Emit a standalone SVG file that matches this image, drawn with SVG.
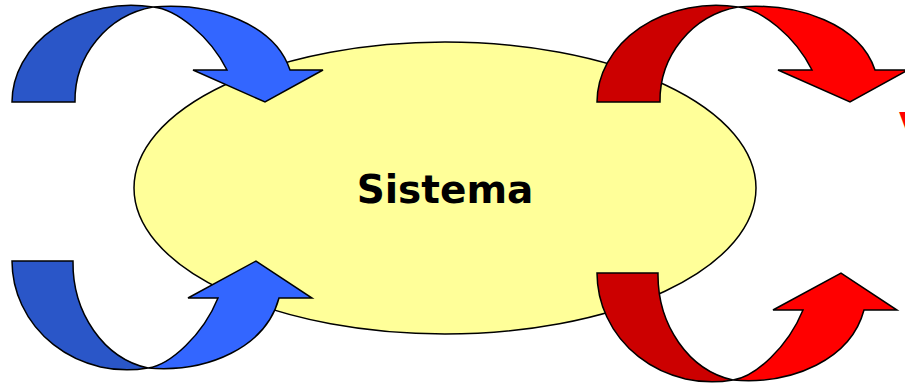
<svg xmlns="http://www.w3.org/2000/svg" width="905" height="384" viewBox="0 0 905 384">
  <style>
    .edge { stroke: #000000; stroke-width: 1.5; stroke-linejoin: miter; }
    .blue-back { fill: #2a56c8; }
    .blue-front { fill: #3366ff; }
    .red-back { fill: #cc0000; }
    .red-front { fill: #ff0000; }
    .label { font-family: "DejaVu Sans", Verdana, sans-serif; font-weight: bold; }
  </style>
  <defs>
    <g id="arrow-down-back"><path d="M 12,102 A 119 97 0 0 1 153,7 A 95 95 0 0 0 75,102 Z"/></g>
    <g id="arrow-down-front"><path d="M 153,7 C 215,2 275,25 290,70 L 323,70 L 265,102 L 193,70 L 227,70 C 210,36 176,9 153,7 Z"/></g>
    <g id="arrow-up-back"><path d="M 12,261 A 115 109 0 0 0 148,368 A 92 107 0 0 1 73,261 Z"/></g>
    <g id="arrow-up-front"><path d="M 148,368 C 208,373 266,347 279,298 L 312,298 L 256,261 L 188,298 L 218,298 C 203,335 170,365 148,368 Z"/></g>
  </defs>

  <g id="sistema">
    <ellipse cx="445" cy="188" rx="311" ry="146" fill="#ffff99" class="edge"/>
    <text class="label" x="445" y="202.5" font-size="39" text-anchor="middle" fill="#000000">Sistema</text>
  </g>

  <g id="connectors">
    <g id="input-top" class="edge">
      <use href="#arrow-down-back" class="blue-back"/>
      <use href="#arrow-down-front" class="blue-front"/>
    </g>
    <g id="input-bottom" class="edge">
      <use href="#arrow-up-back" class="blue-back"/>
      <use href="#arrow-up-front" class="blue-front"/>
    </g>
    <g id="output-top" class="edge" transform="translate(585,0)">
      <use href="#arrow-down-back" class="red-back"/>
      <use href="#arrow-down-front" class="red-front"/>
    </g>
    <g id="output-bottom" class="edge" transform="translate(585,12)">
      <use href="#arrow-up-back" class="red-back"/>
      <use href="#arrow-up-front" class="red-front"/>
    </g>
  </g>

  <text class="label" x="899" y="138" font-size="36" fill="#ff0000" font-family="Liberation Sans, Arial, sans-serif">V</text>
</svg>
